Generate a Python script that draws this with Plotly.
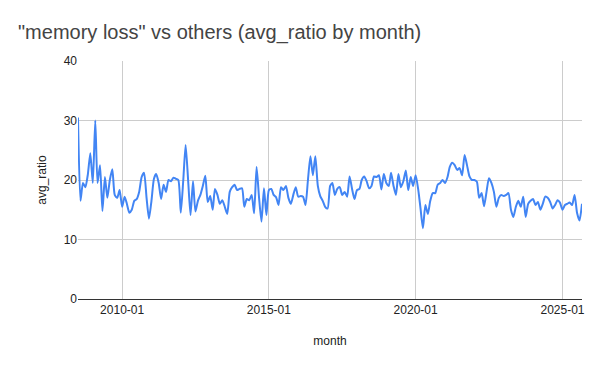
import plotly.graph_objects as go
import pandas as pd

start_month = "2008-07-01"
avg_ratio = [
    30.5, 16.5, 19.5, 18.8, 21.0, 24.5, 19.5, 30.0, 19.5, 22.5,
    14.8, 20.5, 17.0, 20.0, 21.8, 17.5, 17.0, 18.3, 15.5, 17.2,
    16.0, 14.5, 15.0, 16.5, 16.8, 18.0, 20.5, 21.2, 17.0, 13.5,
    16.5, 20.2, 21.0, 19.5, 16.8, 19.2, 18.0, 20.0, 19.8, 20.4,
    20.2, 20.0, 14.5, 20.0, 25.9, 20.0, 14.1, 19.8, 14.7, 16.5,
    17.5, 19.0, 20.7, 16.3, 17.3, 15.0, 18.5, 17.5, 16.0, 16.6,
    15.5, 14.3, 18.0, 18.8, 19.2, 18.3, 18.5, 18.6, 15.5, 16.8,
    16.6, 17.5, 14.4, 22.2, 17.0, 13.0, 18.6, 14.1, 18.3, 18.5,
    17.5, 17.1, 15.8, 18.8, 18.3, 19.0, 17.0, 16.0, 17.5, 18.8,
    17.2, 17.3, 17.2, 15.8, 20.0, 24.0, 20.8, 24.0, 19.0, 17.3,
    16.5, 15.5, 15.2, 19.0, 19.5, 17.5, 18.5, 18.8, 17.5, 18.0,
    17.2, 20.6, 18.5, 16.8, 18.3, 18.5, 20.0, 20.6, 19.8, 18.6,
    19.0, 20.6, 20.5, 20.8, 18.4, 21.0, 19.5, 19.0, 21.2, 19.0,
    17.5, 21.0, 18.8, 19.8, 21.6, 18.3, 20.5, 19.0, 20.8, 18.5,
    15.3, 11.9, 15.8, 14.3, 16.5, 17.8, 17.8, 19.2, 19.5, 20.0,
    19.5, 20.5, 22.2, 22.9, 22.5, 21.7, 22.0, 20.8, 24.2, 22.5,
    20.6, 20.0, 20.0, 19.7, 17.0, 17.8, 15.6, 18.0, 20.3, 19.5,
    18.0, 15.5, 17.0, 17.5, 17.3, 17.5, 17.8, 15.0, 13.8, 15.5,
    16.5, 15.5, 17.2, 13.8, 16.0, 16.5, 16.8, 15.8, 16.3, 15.0,
    16.0, 17.2, 17.0, 16.3, 15.2, 15.8, 16.6, 16.2, 15.0, 15.8,
    16.0, 16.2, 15.8, 17.5, 14.5, 13.2, 16.0,
]
months = pd.date_range(start_month, periods=len(avg_ratio), freq="MS")

x_tick_vals = ["2010-01-01", "2015-01-01", "2020-01-01", "2025-01-01"]
x_tick_text = ["2010-01", "2015-01", "2020-01", "2025-01"]
y_tick_vals = [0, 10, 20, 30, 40]

font_family = "Arial, Liberation Sans, sans-serif"

fig = go.Figure()
fig.add_trace(go.Scatter(
    x=months, y=avg_ratio, mode="lines",
    line=dict(color="#4285F4", width=2, shape="spline", smoothing=0.6),
    showlegend=False,
))

fig.update_layout(
    width=600, height=371,
    margin=dict(l=78, r=18, t=61, b=72),
    paper_bgcolor="white", plot_bgcolor="white",
    title=dict(text='"memory loss" vs others (avg_ratio by month)',
               x=18 / 600, xanchor="left", y=1 - 32 / 371, yanchor="middle",
               font=dict(family=font_family, size=20, color="#444444")),
    font=dict(family=font_family, size=12, color="#222222"),
    xaxis=dict(
        range=[months[0], months[-1]],
        tickvals=x_tick_vals, ticktext=x_tick_text,
        showgrid=True, gridcolor="#cccccc", gridwidth=1,
        showline=True, linecolor="#333333", linewidth=1,
        ticks="", zeroline=False,
        title=dict(text="month", font=dict(size=12, color="#222222"), standoff=20),
        tickfont=dict(size=12, color="#222222"),
    ),
    yaxis=dict(
        range=[0, 40], tickvals=y_tick_vals,
        showgrid=True, gridcolor="#cccccc", gridwidth=1,
        zeroline=False, showline=False, ticks="",
        title=dict(text="avg_ratio", font=dict(size=12, color="#222222"), standoff=14),
        tickfont=dict(size=12, color="#222222"),
    ),
)

fig.write_html("out.html")
